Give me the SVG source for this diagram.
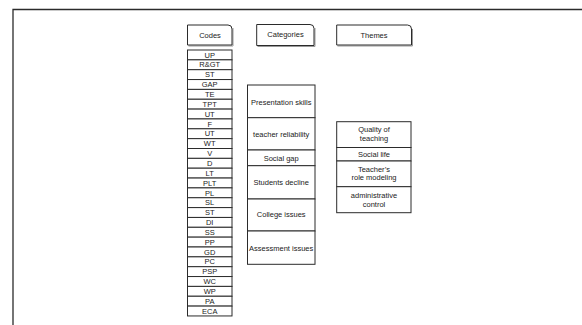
<svg xmlns="http://www.w3.org/2000/svg" width="582" height="325" viewBox="0 0 582 325">
<style>
  .box { fill: #ffffff; stroke: #2b2b2b; stroke-width: 1; }
  .sh { fill: none; stroke: #9a9a9a; stroke-width: 1; }
  .t { font-family: "Liberation Sans", Arial, sans-serif; font-size: 7.5px; fill: #222; text-anchor: middle; }
  .frame { fill: none; stroke: #2b2b2b; stroke-width: 1.3; }
</style>
<rect width="582" height="325" fill="#ffffff"/>
<path class="frame" d="M13,325 V9.5 H582"/>

<g id="hdr-codes">
  <path class="sh" d="M188.5,46 H233 V28"/>
  <path class="box" d="M187.5,25 H228 Q232,25 232,29 V45 H187.5 Z"/>
  <text class="t" x="210" y="37.5">Codes</text>
</g>
<g id="hdr-categories">
  <path class="sh" d="M257.5,46.5 H315 V28"/>
  <path class="box" d="M256.7,24.5 H310 Q314,24.5 314,28.5 V45.5 H256.7 Z"/>
  <text class="t" x="285.5" y="36.5">Categories</text>
</g>
<g id="hdr-themes">
  <path class="sh" d="M337.5,46 H412.5 V29"/>
  <path class="box" d="M336.7,25 H407.5 Q411.5,25 411.5,29 V45 H336.7 Z"/>
  <text class="t" x="374" y="37.5">Themes</text>
</g>

<g id="codes">
  <g id="code-1"><rect class="box" x="187.5" y="50" width="44.5" height="9.85"/><text class="t" x="209.7" y="57.6">UP</text></g>
  <g id="code-2"><rect class="box" x="187.5" y="59.85" width="44.5" height="9.85"/><text class="t" x="209.7" y="67.45">R&amp;GT</text></g>
  <g id="code-3"><rect class="box" x="187.5" y="69.7" width="44.5" height="9.85"/><text class="t" x="209.7" y="77.3">ST</text></g>
  <g id="code-4"><rect class="box" x="187.5" y="79.55" width="44.5" height="9.85"/><text class="t" x="209.7" y="87.15">GAP</text></g>
  <g id="code-5"><rect class="box" x="187.5" y="89.4" width="44.5" height="9.85"/><text class="t" x="209.7" y="97">TE</text></g>
  <g id="code-6"><rect class="box" x="187.5" y="99.25" width="44.5" height="9.85"/><text class="t" x="209.7" y="106.85">TPT</text></g>
  <g id="code-7"><rect class="box" x="187.5" y="109.1" width="44.5" height="9.85"/><text class="t" x="209.7" y="116.7">UT</text></g>
  <g id="code-8"><rect class="box" x="187.5" y="118.95" width="44.5" height="9.85"/><text class="t" x="209.7" y="126.55">F</text></g>
  <g id="code-9"><rect class="box" x="187.5" y="128.8" width="44.5" height="9.85"/><text class="t" x="209.7" y="136.4">UT</text></g>
  <g id="code-10"><rect class="box" x="187.5" y="138.65" width="44.5" height="9.85"/><text class="t" x="209.7" y="146.25">WT</text></g>
  <g id="code-11"><rect class="box" x="187.5" y="148.5" width="44.5" height="9.85"/><text class="t" x="209.7" y="156.1">V</text></g>
  <g id="code-12"><rect class="box" x="187.5" y="158.35" width="44.5" height="9.85"/><text class="t" x="209.7" y="165.95">D</text></g>
  <g id="code-13"><rect class="box" x="187.5" y="168.2" width="44.5" height="9.85"/><text class="t" x="209.7" y="175.8">LT</text></g>
  <g id="code-14"><rect class="box" x="187.5" y="178.05" width="44.5" height="9.85"/><text class="t" x="209.7" y="185.65">PLT</text></g>
  <g id="code-15"><rect class="box" x="187.5" y="187.9" width="44.5" height="9.85"/><text class="t" x="209.7" y="195.5">PL</text></g>
  <g id="code-16"><rect class="box" x="187.5" y="197.75" width="44.5" height="9.85"/><text class="t" x="209.7" y="205.35">SL</text></g>
  <g id="code-17"><rect class="box" x="187.5" y="207.6" width="44.5" height="9.85"/><text class="t" x="209.7" y="215.2">ST</text></g>
  <g id="code-18"><rect class="box" x="187.5" y="217.45" width="44.5" height="9.85"/><text class="t" x="209.7" y="225.05">DI</text></g>
  <g id="code-19"><rect class="box" x="187.5" y="227.3" width="44.5" height="9.85"/><text class="t" x="209.7" y="234.9">SS</text></g>
  <g id="code-20"><rect class="box" x="187.5" y="237.15" width="44.5" height="9.85"/><text class="t" x="209.7" y="244.75">PP</text></g>
  <g id="code-21"><rect class="box" x="187.5" y="247" width="44.5" height="9.85"/><text class="t" x="209.7" y="254.6">GD</text></g>
  <g id="code-22"><rect class="box" x="187.5" y="256.85" width="44.5" height="9.85"/><text class="t" x="209.7" y="264.45">PC</text></g>
  <g id="code-23"><rect class="box" x="187.5" y="266.7" width="44.5" height="9.85"/><text class="t" x="209.7" y="274.3">PSP</text></g>
  <g id="code-24"><rect class="box" x="187.5" y="276.55" width="44.5" height="9.85"/><text class="t" x="209.7" y="284.15">WC</text></g>
  <g id="code-25"><rect class="box" x="187.5" y="286.4" width="44.5" height="9.85"/><text class="t" x="209.7" y="294">WP</text></g>
  <g id="code-26"><rect class="box" x="187.5" y="296.25" width="44.5" height="9.85"/><text class="t" x="209.7" y="303.85">PA</text></g>
  <g id="code-27"><rect class="box" x="187.5" y="306.1" width="44.5" height="9.85"/><text class="t" x="209.7" y="313.7">ECA</text></g>
</g>

<g id="categories">
  <g id="cat-1"><rect class="box" x="247.5" y="85" width="67.5" height="32.7"/><text class="t" x="281.2" y="104.5">Presentation skills</text></g>
  <g id="cat-2"><rect class="box" x="247.5" y="117.7" width="67.5" height="32.3"/><text class="t" x="281.2" y="136.5">teacher reliability</text></g>
  <g id="cat-3"><rect class="box" x="247.5" y="150" width="67.5" height="15.7"/><text class="t" x="281.2" y="160.5">Social gap</text></g>
  <g id="cat-4"><rect class="box" x="247.5" y="165.7" width="67.5" height="33.3"/><text class="t" x="281.2" y="185.2">Students decline</text></g>
  <g id="cat-5"><rect class="box" x="247.5" y="199" width="67.5" height="32"/><text class="t" x="281.2" y="217">College issues</text></g>
  <g id="cat-6"><rect class="box" x="247.5" y="231" width="67.5" height="33.3"/><text class="t" x="281.2" y="251">Assessment issues</text></g>
</g>

<g id="themes">
  <g id="theme-1"><rect class="box" x="336.7" y="121.7" width="74.3" height="25.8"/><text class="t" x="374" y="132">Quality of</text><text class="t" x="374" y="141.2">teaching</text></g>
  <g id="theme-2"><rect class="box" x="336.7" y="147.5" width="74.3" height="13.5"/><text class="t" x="374" y="157">Social life</text></g>
  <g id="theme-3"><rect class="box" x="336.7" y="161" width="74.3" height="25.7"/><text class="t" x="374" y="172">Teacher’s</text><text class="t" x="374" y="180.4">role modeling</text></g>
  <g id="theme-4"><rect class="box" x="336.7" y="186.7" width="74.3" height="26"/><text class="t" x="374" y="198.4">administrative</text><text class="t" x="374" y="206.7">control</text></g>
</g>

<g id="connectors"></g>
</svg>
